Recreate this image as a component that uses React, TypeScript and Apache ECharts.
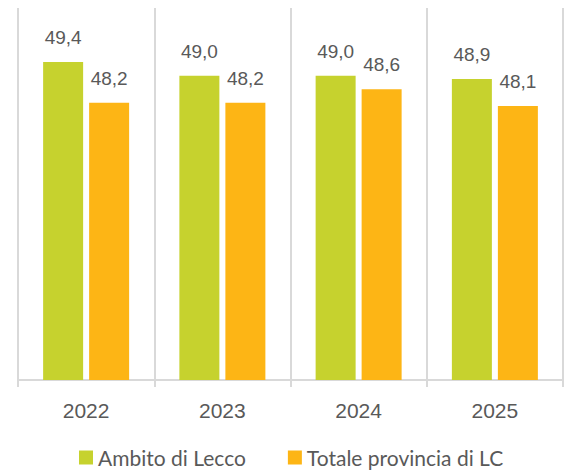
import React, { useEffect, useRef } from "react";
import * as echarts from "echarts";

const categories = ["2022", "2023", "2024", "2025"];
const ambitoLecco = [49.4, 49.0, 49.0, 48.9];
const totaleProvincia = [48.2, 48.2, 48.6, 48.1];
const seriesNames = ["Ambito di Lecco", "Totale provincia di LC"];

const fmt = (v: number) => v.toFixed(1).replace(".", ",");

export default function App() {
  const ref = useRef<HTMLDivElement>(null);
  useEffect(() => {
    document.body.style.margin = "0";
    const chart = echarts.init(ref.current!, null, { renderer: "svg" });
    const labelStyle = {
      show: true,
      position: "top" as const,
      distance: 15,
      fontSize: 19,
      fontFamily: "Liberation Sans",
      color: "#595959",
      formatter: (p: any) => fmt(p.value),
    };
    chart.setOption({
      animation: false,
      backgroundColor: "#ffffff",
      grid: { left: 18, right: 5, top: 8, bottom: 91 },
      legend: {
        top: 447,
        left: 79,
        padding: 0,
        itemWidth: 14,
        itemHeight: 14,
        itemGap: 42,
        icon: "rect",
        textStyle: { fontSize: 21, lineHeight: 20, fontFamily: "Lato", color: "#595959" },
        data: seriesNames,
      },
      xAxis: {
        type: "category",
        data: categories,
        boundaryGap: true,
        axisLine: { show: true, lineStyle: { color: "#d9d9d9", width: 2 } },
        axisTick: { show: true, length: 7, lineStyle: { color: "#d9d9d9", width: 2 } },
        splitLine: { show: true, lineStyle: { color: "#d9d9d9", width: 2 } },
        axisLabel: {
          margin: 20,
          fontSize: 21,
          fontFamily: "Liberation Sans",
          color: "#595959",
        },
      },
      yAxis: {
        type: "value",
        min: 40,
        max: 51,
        show: false,
        splitLine: { show: false },
      },
      series: [
        {
          name: seriesNames[0],
          type: "bar",
          data: ambitoLecco,
          barWidth: 40,
          barGap: "15%",
          itemStyle: { color: "#c6d22e" },
          label: labelStyle,
        },
        {
          name: seriesNames[1],
          type: "bar",
          data: totaleProvincia,
          barWidth: 40,
          itemStyle: { color: "#fdb515" },
          label: labelStyle,
        },
      ],
    });
    return () => chart.dispose();
  }, []);
  return <div ref={ref} style={{ width: 568, height: 471 }} />;
}
